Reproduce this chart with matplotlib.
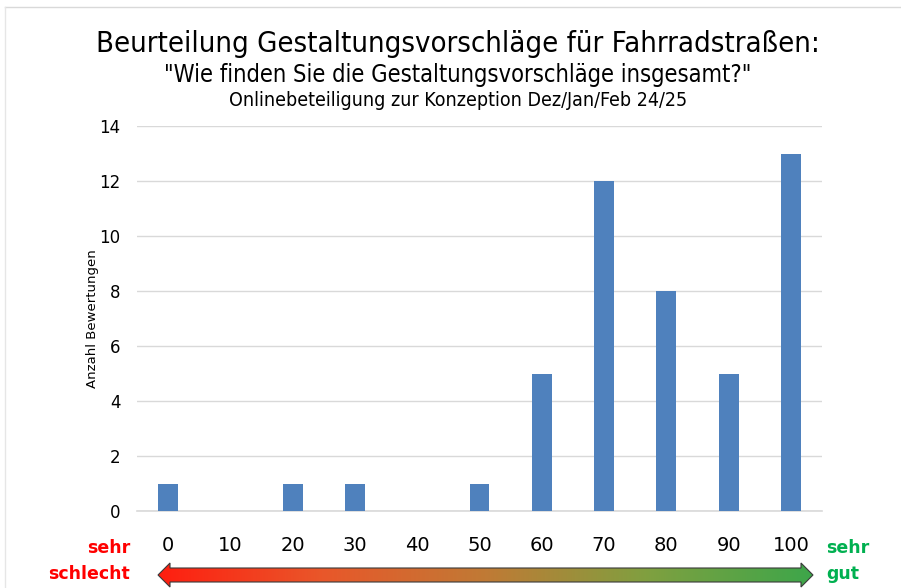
import numpy as np
import matplotlib as mpl
mpl.use("Agg")
import matplotlib.pyplot as plt
from matplotlib.patches import Polygon

categories = ["0", "10", "20", "30", "40", "50", "60", "70", "80", "90", "100"]
counts = [1, 0, 1, 1, 0, 1, 5, 12, 8, 5, 13]
y_ticks = [0, 2, 4, 6, 8, 10, 12, 14]

mpl.rcParams.update({"font.family": ["DejaVu Sans"]})
W, H = 901, 588
fig = plt.figure(figsize=(W / 100, H / 100), dpi=100)
fig.patch.set_facecolor("white")

# light frame like the exported slide
frame = fig.add_axes([0, 0, 1, 1], zorder=-5)
frame.set_xlim(0, W); frame.set_ylim(H, 0); frame.axis("off")
frame.plot([5, W, W], [7, 7, 7], color="#d9d9d9", lw=1.0)
frame.plot([5, 5], [7, H], color="#e6e6e6", lw=1.0)

# ---- main bar chart ----
L, R, T, B = 137, 822, 126, 511
ax = fig.add_axes([L / W, 1 - B / H, (R - L) / W, (B - T) / H])
x = np.arange(len(categories))
ax.bar(x, counts, width=0.32, color="#4F81BD", zorder=3)
ax.set_xlim(-0.5, len(categories) - 0.5)
ax.set_ylim(0, 14)
ax.set_yticks(y_ticks)
ax.set_yticklabels([str(v) for v in y_ticks], fontsize=12)
ax.set_xticks(x)
ax.set_xticklabels(categories, fontsize=14)
ax.tick_params(axis="x", length=0, pad=18)
ax.tick_params(axis="y", length=0, pad=12)
ax.grid(axis="y", color="#d9d9d9", lw=1.0, zorder=0)
ax.axhline(0, color="#d9d9d9", lw=1.2, zorder=1, clip_on=False)
for s in ax.spines.values():
    s.set_visible(False)
ax.set_ylabel("Anzahl Bewertungen", fontsize=9.5, labelpad=0)

# ---- titles ----
fig.text(458 / W, 1 - 44 / H, "Beurteilung Gestaltungsvorschläge für Fahrradstraßen:",
         ha="center", va="center", fontsize=21, fontstretch="condensed")
fig.text(458 / W, 1 - 75 / H, "\"Wie finden Sie die Gestaltungsvorschläge insgesamt?\"",
         ha="center", va="center", fontsize=17, fontstretch="condensed")
fig.text(458 / W, 1 - 101 / H, "Onlinebeteiligung zur Konzeption Dez/Jan/Feb 24/25",
         ha="center", va="center", fontsize=14, fontstretch="condensed")

# ---- gradient arrow (red -> green) ----
ov = fig.add_axes([0, 0, 1, 1], zorder=5)
ov.set_xlim(0, W); ov.set_ylim(H, 0); ov.axis("off")
cy = 575
pts = [(158, cy), (170, cy - 12), (170, cy - 7), (801, cy - 7), (801, cy - 12),
       (813, cy), (801, cy + 12), (801, cy + 7), (170, cy + 7), (170, cy + 12)]
grad = np.linspace(0, 1, 256)[None, :]
cmap = mpl.colors.LinearSegmentedColormap.from_list(
    "rg", ["#FF1E10", "#E9572A", "#C07A35", "#7FA040", "#3DA64A"])
im = ov.imshow(grad, extent=(158, 813, cy + 12, cy - 12), cmap=cmap, aspect="auto")
poly = Polygon(pts, closed=True, facecolor="none", edgecolor="#3a3a3a", lw=0.8)
ov.add_patch(poly)
im.set_clip_path(poly)
ov.set_xlim(0, W); ov.set_ylim(H, 0)

ov.text(130, 548, "sehr", color="#FF0000", fontweight="bold", fontsize=12.5,
        ha="right", va="center")
ov.text(130, 574, "schlecht", color="#FF0000", fontweight="bold", fontsize=12.5,
        ha="right", va="center")
ov.text(826, 548, "sehr", color="#00B050", fontweight="bold", fontsize=12.5,
        ha="left", va="center")
ov.text(826, 574, "gut", color="#00B050", fontweight="bold", fontsize=12.5,
        ha="left", va="center")

fig.savefig("out.png", dpi=100)
